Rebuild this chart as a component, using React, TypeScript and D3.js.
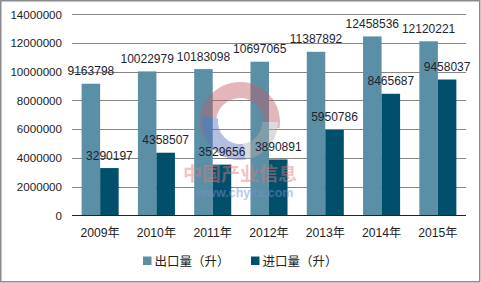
import React from "react";
import * as d3 from "d3";

const years = ["2009年", "2010年", "2011年", "2012年", "2013年", "2014年", "2015年"];
const seriesNames = ["出口量（升）", "进口量（升）"];
const exportVals = [9163798, 10022979, 10183098, 10697065, 11387892, 12458536, 12120221];
const importVals = [3290197, 4358507, 3529656, 3890891, 5950786, 8465687, 9458037];
const yTicks = [0, 2000000, 4000000, 6000000, 8000000, 10000000, 12000000, 14000000];
const colors = ["#5b8fa6", "#00506b"];

const W = 481, H = 283;
const left = 72, right = 466, top = 14.3, bottom = 215.3;

export default function App() {
  const x0 = d3.scaleBand<string>().domain(years).range([left, right]).padding(0);
  const step = x0.bandwidth();
  const x1 = d3.scaleBand<string>().domain(seriesNames).range([step * 0.171, step * 0.829]).padding(0);
  const y = d3.scaleLinear().domain([0, 14000000]).range([bottom, top]);
  const series = [exportVals, importVals];
  const font = "'Liberation Sans', Arial, 'Noto Sans CJK SC', sans-serif";

  return (
    <svg width={W} height={H} style={{ position: "absolute", left: 0, top: 0, background: "#fff" }} fontFamily={font}>
      <rect x={0.75} y={0.75} width={W - 2} height={H - 2} fill="#fff" stroke="#8c8c8c" strokeWidth={1.5} />
      {yTicks.map((t) => (
        <g key={t}>
          {t > 0 && <line x1={left} x2={right} y1={Math.round(y(t)) + 0.5} y2={Math.round(y(t)) + 0.5} stroke="#868686" strokeWidth={1} />}
          <text x={62} y={y(t) + 4.2} textAnchor="end" fontSize={11.6} fill="#222">{t}</text>
        </g>
      ))}
      {years.map((yr, i) => (
        <g key={yr}>
          {series.map((vals, s) => (
            <rect key={s} x={(x0(yr) as number) + (x1(seriesNames[s]) as number)} y={y(vals[i])} width={x1.bandwidth()} height={bottom - y(vals[i])} fill={colors[s]} />
          ))}
        </g>
      ))}
      <line x1={left} x2={right} y1={Math.round(bottom) + 0.5} y2={Math.round(bottom) + 0.5} stroke="#222" strokeWidth={1} />
      {years.map((yr) => (
        <text key={yr} x={(x0(yr) as number) + step / 2} y={237} textAnchor="middle" fontSize={12.2} fill="#222">{yr}</text>
      ))}
      {/* watermark */}
      <g opacity={0.45}>
        <path d={d3.arc()({ innerRadius: 24, outerRadius: 40, startAngle: -Math.PI * 0.62, endAngle: Math.PI * 0.55 }) as string} transform="translate(240,122)" fill="#c0606a" />
        <path d={d3.arc()({ innerRadius: 22, outerRadius: 38, startAngle: -Math.PI * 1.05, endAngle: -Math.PI * 0.45 }) as string} transform="translate(240,122)" fill="#5a6fbf" />
        <path d={d3.arc()({ innerRadius: 22, outerRadius: 38, startAngle: Math.PI * 0.5, endAngle: Math.PI * 0.95 }) as string} transform="translate(240,122)" fill="#b0b0b0" />
      </g>
      <text x={240} y={181} textAnchor="middle" fontSize={19} fontWeight="bold" fill="#e07a7a" opacity={0.45} fontFamily="'Noto Sans CJK SC', sans-serif">中国产业信息</text>
      <text x={245} y={197} textAnchor="middle" fontSize={12.5} fontWeight="bold" fill="#7a8fd0" opacity={0.5}>www.chyxx.com</text>
      {years.map((yr, i) => (
        <g key={"l" + yr}>
          {series.map((vals, s) => (
            <text key={s} x={(x0(yr) as number) + (x1(seriesNames[s]) as number) + x1.bandwidth() / 2} y={y(vals[i]) - 8.5} textAnchor="middle" fontSize={12} fill="#1e2430">{vals[i]}</text>
          ))}
        </g>
      ))}
      {seriesNames.map((n, s) => {
        const lx = s === 0 ? 143 : 251;
        return (
          <g key={n}>
            <rect x={lx} y={256.5} width={8.5} height={8.5} fill={colors[s]} />
            <text x={lx + 11.5} y={265.5} fontSize={12.5} fill="#222">{n}</text>
          </g>
        );
      })}
    </svg>
  );
}
